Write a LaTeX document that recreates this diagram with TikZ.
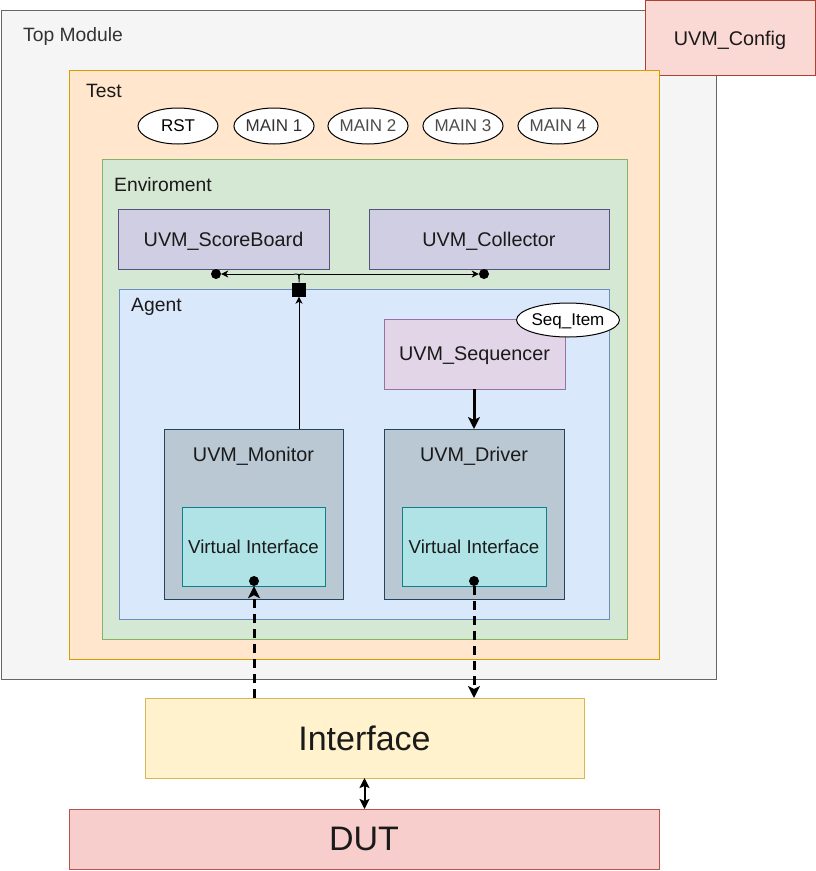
\documentclass[tikz,border=0pt]{standalone}
\usepackage{fontspec}
\setmainfont{Liberation Sans}
\usetikzlibrary{arrows.meta,shapes.geometric}
\definecolor{tmF}{HTML}{F5F5F5}\definecolor{tmS}{HTML}{666666}
\definecolor{cfF}{HTML}{FAD9D5}\definecolor{cfS}{HTML}{AE4132}
\definecolor{tsF}{HTML}{FFE6CC}\definecolor{tsS}{HTML}{D79B00}
\definecolor{evF}{HTML}{D5E8D4}\definecolor{evS}{HTML}{82B366}
\definecolor{agF}{HTML}{DAE8FC}\definecolor{agS}{HTML}{6C8EBF}
\definecolor{sbF}{HTML}{D0CEE2}\definecolor{sbS}{HTML}{56517E}
\definecolor{sqF}{HTML}{E1D5E7}\definecolor{sqS}{HTML}{9673A6}
\definecolor{mnF}{HTML}{BAC8D3}\definecolor{mnS}{HTML}{23445D}
\definecolor{viF}{HTML}{B0E3E6}\definecolor{viS}{HTML}{0E8088}
\definecolor{ifF}{HTML}{FFF2CC}\definecolor{ifS}{HTML}{D6B656}
\definecolor{duF}{HTML}{F8CECC}\definecolor{duS}{HTML}{B85450}
\definecolor{txt}{HTML}{1A1A1A}
\tikzset{
  box/.style={draw, rectangle, inner sep=0pt, outer sep=0pt, line width=1pt, text=txt, text depth=0pt, font=\fontsize{19.8}{22}\selectfont},
  lbl/.style={anchor=west, inner sep=0pt, text=txt, text depth=0pt, font=\fontsize{19.3}{22}\selectfont},
  oval/.style={draw, ellipse, fill=white, line width=1pt, inner sep=0pt, minimum width=80pt, minimum height=36pt, text depth=0pt, font=\fontsize{17}{20}\selectfont},
  dot/.style={circle, fill=black, inner sep=0pt, minimum size=10pt},
  thin/.style={line width=1pt, -{Stealth[length=7pt,width=7pt,inset=2pt]}},
  thick/.style={line width=3pt, -{Stealth[length=12pt,width=12pt,inset=3pt]}},
  dsh/.style={line width=3pt, dash pattern=on 9pt off 6pt, -{Stealth[length=12pt,width=12pt,inset=3pt]}}
}
\begin{document}
\begin{tikzpicture}[x=1pt,y=-1pt]
\useasboundingbox (0,0) rectangle (816,871);
% containers
\node[box, fill=tmF, draw=tmS, minimum width=715pt, minimum height=669pt] (top) at (358.5,344.5) {};
\node[lbl, text=black!80] (toplbl) at (23,35) {Top Module};
\node[box, fill=cfF, draw=cfS, minimum width=170pt, minimum height=75pt] (cfg) at (730,38) {UVM\_Config};
\node[box, fill=tsF, draw=tsS, minimum width=590pt, minimum height=589pt] (test) at (364,364.5) {};
\node[lbl] (testlbl) at (86,91) {Test};
\node[oval] (rst) at (178,126) {RST};
\node[oval, text=black!80] (m1) at (274,126) {MAIN 1};
\node[oval, text=black!70] (m2) at (368,126) {MAIN 2};
\node[oval, text=black!70] (m3) at (463,126) {MAIN 3};
\node[oval, text=black!70] (m4) at (558,126) {MAIN 4};
\node[box, fill=evF, draw=evS, minimum width=525pt, minimum height=480pt] (env) at (364.5,399) {};
\node[lbl] (envlbl) at (114,185) {Enviroment};
\node[box, fill=sbF, draw=sbS, minimum width=211pt, minimum height=60pt] (sb) at (223.5,239) {UVM\_ScoreBoard};
\node[box, fill=sbF, draw=sbS, minimum width=240pt, minimum height=60pt] (col) at (489,239) {UVM\_Collector};
\node[box, fill=agF, draw=agS, minimum width=490pt, minimum height=330pt] (agent) at (364,454) {};
\node[lbl] (aglbl) at (131,305) {Agent};
\node[box, fill=sqF, draw=sqS, minimum width=181pt, minimum height=70pt] (seq) at (474.5,354) {UVM\_Sequencer};
\node[oval, minimum width=100pt, minimum height=34pt] (item) at (568,320) {Seq\_Item};
\node[box, fill=mnF, draw=mnS, minimum width=179pt, minimum height=170pt] (mon) at (253.5,514) {};
\node[inner sep=0pt, text=txt, text depth=0pt, font=\fontsize{19.8}{22}\selectfont] (monlbl) at (253.5,454) {UVM\_Monitor};
\node[box, fill=mnF, draw=mnS, minimum width=180pt, minimum height=170pt] (drv) at (474,514) {};
\node[inner sep=0pt, text=txt, text depth=0pt, font=\fontsize{19.8}{22}\selectfont] (drvlbl) at (474,454) {UVM\_Driver};
\node[box, fill=viF, draw=viS, minimum width=143pt, minimum height=79pt, font=\fontsize{18.7}{22}\selectfont] (vim) at (253.5,546.5) {Virtual Interface};
\node[box, fill=viF, draw=viS, minimum width=144pt, minimum height=79pt, font=\fontsize{18.7}{22}\selectfont] (vid) at (474,546.5) {Virtual Interface};
\node[box, fill=ifF, draw=ifS, minimum width=439pt, minimum height=80pt, font=\fontsize{34}{38}\selectfont] (intf) at (364.5,738) {Interface};
\node[box, fill=duF, draw=duS, minimum width=590pt, minimum height=60pt, font=\fontsize{34}{38}\selectfont] (dut) at (364,839) {DUT};
% junction
\node[rectangle, fill=black, inner sep=0pt, minimum size=14pt] (sq) at (299,289.5) {};
\node[dot] (dsb) at (216,274) {};
\node[dot] (dcol) at (484,274) {};
\coordinate (jl) at (294,274);
\coordinate (jr) at (304,274);
\coordinate (jv) at (299,279);
\draw[line width=1pt] (sq.north) -- (jv) .. controls (299,274) .. (jl);
\draw[line width=1pt] (jv) .. controls (299,274) .. (jr);
\draw[thin] (jl) -- (dsb);
\draw[thin] (jr) -- (dcol);
\draw[thin] (mon.north -| sq) -- (sq.south);
% sequencer to driver
\draw[thick] (seq.south -| drv) -- (drv.north);
% virtual interface dots
\node[dot] (dm) at (254,581) {};
\node[dot] (dd) at (474,581) {};
\draw[dsh] (intf.north -| dm) -- (dm.south);
\draw[dsh] (dd.south) -- (intf.north -| dd);
% interface to dut
\draw[line width=2pt, {Stealth[length=10pt,width=10pt,inset=2pt]}-{Stealth[length=10pt,width=10pt,inset=2pt]}] (intf.south) -- (dut.north -| intf);
\end{tikzpicture}
\end{document}
